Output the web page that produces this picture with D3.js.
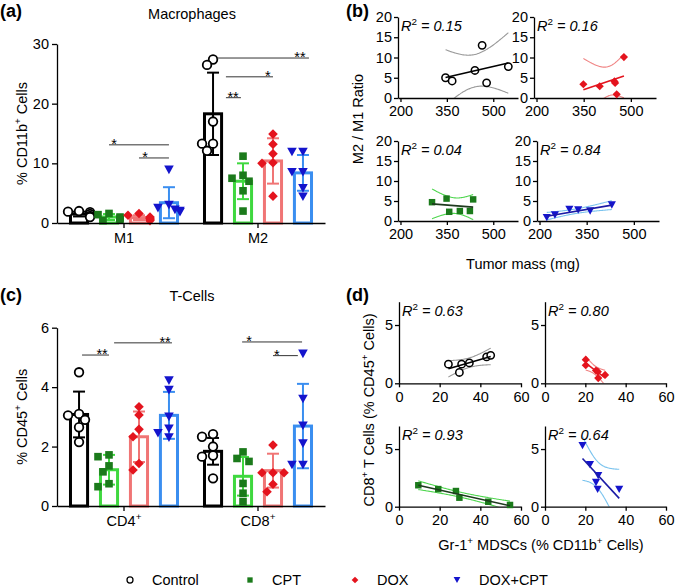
<!DOCTYPE html>
<html><head><meta charset="utf-8">
<script src="https://cdn.jsdelivr.net/npm/d3@7"></script>
<style>
body{margin:0;background:#fff;}
svg{display:block;font-family:"Liberation Sans",Arial,Helvetica,sans-serif;}
</style></head><body>
<svg id="c" width="676" height="588"></svg>
<script>
// ---------------- DATA ----------------
const series = ["Control","CPT","DOX","DOX+CPT"];

// (a) Macrophages
const macroGroups = ["M1","M2"];
const macroMeans = [[1.5,1.0,0.9,3.4],[18.3,7.0,10.4,8.4]];
const macroSD    = [[0.4,0.5,0.4,2.6],[6.9,3.0,3.8,3.0]];
const macroPoints = [
  [[2.0,1.9,1.8,1.5,1.2,1.0],[1.6,1.4,1.0,0.8,0.5,0.4],[1.6,1.3,1.0,0.8,0.6,0.4],[8.9,3.0,2.5,2.2,2.0,1.8]],
  [[27.4,26.5,17.0,13.3,13.3,12.1],[11.2,8.0,7.5,7.0,5.4,2.0],[14.9,13.2,11.6,10.1,10.0,4.5],[11.9,11.9,8.5,8.5,5.8,4.4]]
];
const macroTicks = [0,10,20,30];
// significance: group, from series idx, to series idx, level, label position, label
const macroSig = [
  {g:0, from:1,    to:3,   y:13.1,  at:1.17, label:"*"},
  {g:0, from:2,    to:3,   y:10.9,  at:2.2,  label:"*"},
  {g:1, from:0.13, to:3.2, y:27.65, at:2.9,  label:"**"},
  {g:1, from:0.43, to:2,   y:24.5,  at:1.83, label:"*"},
  {g:1, from:0.43, to:0.93,y:21.0,  at:0.67, label:"**"}
];

// (c) T-Cells
const tGroups = ["CD4","CD8"];
const tMeans = [[3.08,1.22,2.33,3.05],[1.84,1.0,1.19,2.69]];
const tSD    = [[0.77,0.5,0.85,0.79],[0.45,0.65,0.57,1.42]];
const tPoints = [
  [[4.5,3.1,3.05,2.9,2.65,2.15],[1.72,1.66,1.35,1.15,0.75,0.65],[3.34,3.06,2.58,2.33,1.43,1.21],[4.22,3.9,3.0,2.6,2.45,2.3]],
  [[2.42,2.33,2.0,1.7,1.66,0.93],[1.82,1.6,1.5,0.76,0.43,0.15],[2.05,1.12,1.12,1.12,0.73,0.48],[5.12,3.6,2.7,2.1,1.38,1.38]]
];
const tTicks = [0,2,4,6];
const tSig = [
  {g:0, from:0.1,  to:1.0,  y:5.08, at:0.77, label:"**"},
  {g:0, from:1.17, to:3.1,  y:5.49, at:2.87, label:"**"},
  {g:1, from:0.97, to:2.97, y:5.52, at:1.2,  label:"*"},
  {g:1, from:2.0,  to:2.83, y:5.06, at:2.13, label:"*"}
];

// (b) M2/M1 ratio vs tumor mass, per series
const bTumorMass = [[345.7,367,440.7,464,478.5,548.7],[302,349,357.6,392,424.5,435],[349,401,448,450,455,478],[223,249,295,323,361,430]];
const bRatio     = [[5.0,4.2,6.8,13.0,3.75,7.75],[4.7,5.6,2.3,2.5,2.5,5.4],[3.4,2.9,4.1,3.7,0.9,10.1],[0.85,1.5,2.9,2.75,2.5,4.0]];
const bR2 = ["0.15","0.04","0.16","0.84"];
const bXTicks = [200,350,500];
const bYTicks = [0,5,10,15,20];

// (d) CD8+ T cells vs Gr-1+ MDSCs, per series
const dMDSC = [[24.3,29.7,30.8,34.6,43.1,45.1],[9.5,19.3,28,29.7,43.9,54.6],[20.2,20.2,25.3,26.2,26.4,29.8],[18.6,22.3,26.4,25.3,26.1,36.8]];
const dCD8  = [[1.64,0.93,1.64,1.75,2.26,2.4],[1.86,1.53,1.36,0.78,0.43,0.15],[2.03,1.55,1.1,1.0,0.45,0.72],[5.3,3.65,2.7,2.1,1.5,1.5]];
const dR2 = ["0.63","0.93","0.80","0.64"];
const dXTicks = [0,20,40,60];
const dYTicks = [0,5];

// ---------------- STYLE ----------------
const FS = 14.5;
const barStroke = ["#000000","#3fd83f","#f07575","#3a8ef0"];
const ptColor   = ["#000000","#1b7a1b","#e4141e","#1414cc"];
const regLine   = ["#000000","#1e3a1e","#e4141e","#1b1ba6"];
const regBand   = ["#9a9a9a","#4fd64f","#f08585","#7cc4ee"];
const fmt = d3.format("~g");
const svg = d3.select("#c");

function rich(sel, parts, fs){
  let shifted=false;
  parts.forEach(p=>{
    const ts = sel.append("tspan").text(p.t);
    if(p.sup){ ts.attr("dy", -fs*0.42).attr("font-size", fs*0.68); shifted=true; }
    else if(shifted){ ts.attr("dy", fs*0.42); shifted=false; }
    if(p.it) ts.attr("font-style","italic");
  });
  return sel;
}

function marker(g, s, x, y, k){
  if(s===0){
    g.append("circle").attr("cx",x).attr("cy",y).attr("r",4.3*k)
      .attr("fill","#fff").attr("stroke","#000").attr("stroke-width",1.8*k);
  } else if(s===1){
    const a=7.6*k;
    g.append("rect").attr("x",x-a/2).attr("y",y-a/2).attr("width",a).attr("height",a).attr("fill",ptColor[1]);
  } else if(s===2){
    const a=4.8*k;
    g.append("path").attr("d",`M${x},${y-a}L${x+a},${y}L${x},${y+a}L${x-a},${y}Z`).attr("fill",ptColor[2]);
  } else {
    const w=4.8*k, h=4.3*k;
    g.append("path").attr("d",`M${x-w},${y-h}L${x+w},${y-h}L${x},${y+h}Z`).attr("fill",ptColor[3]);
  }
}

function styleAxis(g){
  g.selectAll("path,line").attr("stroke","#000").attr("stroke-width",1.3);
  g.selectAll("text").attr("font-size",FS).attr("fill","#000").attr("font-family",null);
}

// ---------------- BAR PANELS ----------------
function barPanel(cfg){
  const g = svg.append("g");
  const y = d3.scaleLinear().domain([0, cfg.ticks[cfg.ticks.length-1]]).range(cfg.yRange);
  const xg = d3.scaleBand().domain(d3.range(cfg.groups.length)).range(cfg.xRange);
  const xi = d3.scaleBand().domain(d3.range(4)).range([0, xg.bandwidth()]).paddingInner(0.33).paddingOuter(0.4);
  const cx = (gi, i) => xg(gi) + xi(0) + xi.bandwidth()/2 + i*xi.step();

  cfg.means.forEach((ms, gi) => ms.forEach((m, i) => {
    g.append("rect").attr("x", xg(gi)+xi(i)+1.5).attr("width", xi.bandwidth()-3)
      .attr("y", y(m)).attr("height", y(0)-y(m))
      .attr("fill","#fff").attr("stroke", barStroke[i]).attr("stroke-width",3);
  }));
  cfg.means.forEach((ms, gi) => ms.forEach((m, i) => {
    const c = cx(gi,i), sd = cfg.sd[gi][i];
    const e = g.append("g").attr("stroke", barStroke[i]).attr("stroke-width",2);
    e.append("line").attr("x1",c).attr("x2",c).attr("y1",y(m-sd)).attr("y2",y(m+sd));
    e.append("line").attr("x1",c-6).attr("x2",c+6).attr("y1",y(m+sd)).attr("y2",y(m+sd));
    e.append("line").attr("x1",c-6).attr("x2",c+6).attr("y1",y(m-sd)).attr("y2",y(m-sd));
  }));
  cfg.points.forEach((ps, gi) => ps.forEach((vals, i) => {
    const c = cx(gi,i);
    const placed = [];
    const offs = [0,-6,6,-11,11];
    vals.slice().sort((a,b)=>b-a).forEach(v => {
      const py = y(v);
      let px = c;
      for(const o of offs){
        const ok = placed.every(p => Math.hypot(p[0]-(c+o), p[1]-py) >= 7.5);
        px = c+o;
        if(ok) break;
      }
      placed.push([px,py]);
      marker(g, i, px, py, 1);
    });
  }));
  const ay = g.append("g").attr("transform",`translate(${cfg.xRange[0]},0)`)
    .call(d3.axisLeft(y).tickValues(cfg.ticks).tickFormat(fmt).tickSize(5).tickPadding(3).tickSizeOuter(0));
  styleAxis(ay);
  const ax = g.append("g").attr("transform",`translate(0,${y(0)})`)
    .call(d3.axisBottom(xg).tickSize(5).tickSizeOuter(0).tickFormat(""));
  styleAxis(ax);
  cfg.groups.forEach((lab, gi) => {
    const t = g.append("text").attr("x", xg(gi)+xg.bandwidth()/2).attr("y", y(0)+20)
      .attr("text-anchor","middle").attr("font-size",FS);
    rich(t, cfg.groupSup ? [{t:lab},{t:"+",sup:true}] : [{t:lab}], FS);
  });
  cfg.sig.forEach(s => {
    const x1 = cx(s.g, s.from), x2 = cx(s.g, s.to), yy = y(s.y);
    g.append("line").attr("x1",x1).attr("x2",x2).attr("y1",yy).attr("y2",yy)
      .attr("stroke","#333").attr("stroke-width",1);
    g.append("text").attr("x", cx(s.g, s.at)).attr("y", yy+4).attr("text-anchor","middle")
      .attr("font-size",FS).text(s.label);
  });
  const yl = g.append("text").attr("transform",`translate(${cfg.yLabelX},${(cfg.yRange[0]+cfg.yRange[1])/2}) rotate(-90)`)
    .attr("text-anchor","middle").attr("font-size",FS);
  rich(yl, cfg.yLabel, FS);
  g.append("text").attr("x", cfg.titleX).attr("y", cfg.titleY).attr("text-anchor","middle")
    .attr("font-size",FS).text(cfg.title);
}

barPanel({groups:macroGroups, means:macroMeans, sd:macroSD, points:macroPoints, sig:macroSig,
  ticks:macroTicks, yRange:[223,44], xRange:[57,325], groupSup:false,
  yLabel:[{t:"% CD11b"},{t:"+",sup:true},{t:" Cells"}], yLabelX:27,
  title:"Macrophages", titleX:192, titleY:19});

barPanel({groups:tGroups, means:tMeans, sd:tSD, points:tPoints, sig:tSig,
  ticks:tTicks, yRange:[506,327.7], xRange:[57,325], groupSup:true,
  yLabel:[{t:"% CD45"},{t:"+",sup:true},{t:" Cells"}], yLabelX:27,
  title:"T-Cells", titleX:192, titleY:301});

// ---------------- SCATTER PANELS ----------------
let clipId = 0;
function scatter(box, xs, ys, s, xDom, yDom, xTicks, yTicks, r2){
  const g = svg.append("g");
  const x = d3.scaleLinear().domain(xDom).range([box.x0, box.x1]);
  const y = d3.scaleLinear().domain(yDom).range([box.y0, box.y1]);
  const id = "clip"+(clipId++);
  g.append("clipPath").attr("id",id).append("rect")
    .attr("x",box.x0).attr("y",box.y1).attr("width",box.x1-box.x0).attr("height",box.y0-box.y1);
  const n = xs.length, mx = d3.mean(xs), my = d3.mean(ys);
  let sxx=0, sxy=0, syy=0;
  xs.forEach((xv,i)=>{ sxx+=(xv-mx)**2; sxy+=(xv-mx)*(ys[i]-my); syy+=(ys[i]-my)**2; });
  const b = sxy/sxx, a = my - b*mx;
  const se = Math.sqrt(Math.max(syy - b*sxy, 0)/(n-2));
  const tval = 2.776;
  const xmin = d3.min(xs), xmax = d3.max(xs);
  const samples = d3.range(0, 61).map(k => xmin + (xmax-xmin)*k/60);
  const half = xv => tval*se*Math.sqrt(1/n + (xv-mx)**2/sxx);
  const bandG = g.append("g").attr("clip-path",`url(#${id})`);
  const ln = d3.line().x(d=>x(d[0])).y(d=>y(d[1])).curve(d3.curveBasis);
  bandG.append("path").attr("d", ln(samples.map(xv=>[xv, a+b*xv+half(xv)])))
    .attr("fill","none").attr("stroke",regBand[s]).attr("stroke-width",1.1);
  bandG.append("path").attr("d", ln(samples.map(xv=>[xv, a+b*xv-half(xv)])))
    .attr("fill","none").attr("stroke",regBand[s]).attr("stroke-width",1.1);
  const ay = g.append("g").attr("transform",`translate(${box.x0},0)`)
    .call(d3.axisLeft(y).tickValues(yTicks).tickFormat(fmt).tickSize(4).tickPadding(2).tickSizeOuter(0));
  styleAxis(ay);
  const ax = g.append("g").attr("transform",`translate(0,${box.y0})`)
    .call(d3.axisBottom(x).tickValues(xTicks).tickFormat(fmt).tickSize(4).tickPadding(4).tickSizeOuter(0));
  styleAxis(ax);
  xs.forEach((xv,i)=> marker(g, s, x(xv), y(ys[i]), 0.85));
  g.append("line").attr("x1",x(xmin)).attr("x2",x(xmax)).attr("y1",y(a+b*xmin)).attr("y2",y(a+b*xmax))
    .attr("stroke",regLine[s]).attr("stroke-width",1.6);
  const t = g.append("text").attr("x", box.x0+3).attr("y", box.y1+14).attr("font-size",FS);
  rich(t, [{t:"R",it:true},{t:"2",sup:true},{t:" = "+r2,it:true}], FS);
}

const bBoxes = [
  {x0:398,x1:518,y0:98,y1:17},
  {x0:398,x1:518,y0:221,y1:141},
  {x0:534,x1:656,y0:98,y1:17},
  {x0:537,x1:659,y0:221,y1:141}
];
series.forEach((_,s)=> scatter(bBoxes[s], bTumorMass[s], bRatio[s], s, [192,580], [0,20], bXTicks, bYTicks, bR2[s]));

const dBoxes = [
  {x0:399,x1:521,y0:383.3,y1:301.7},
  {x0:399,x1:521,y0:506.7,y1:426},
  {x0:545,x1:666,y0:383.3,y1:301.7},
  {x0:545,x1:666,y0:506.7,y1:426}
];
series.forEach((_,s)=> scatter(dBoxes[s], dMDSC[s], dCD8[s], s, [0,60], [0,7], dXTicks, dYTicks, dR2[s]));

svg.append("text").attr("transform","translate(363,119) rotate(-90)").attr("text-anchor","middle")
  .attr("font-size",FS).text("M2 / M1 Ratio");
svg.append("text").attr("x",523).attr("y",269).attr("text-anchor","middle").attr("font-size",FS).text("Tumor mass (mg)");
rich(svg.append("text").attr("transform","translate(374,410) rotate(-90)").attr("text-anchor","middle").attr("font-size",FS),
  [{t:"CD8"},{t:"+",sup:true},{t:" T Cells (% CD45"},{t:"+",sup:true},{t:" Cells)"}], FS);
rich(svg.append("text").attr("x",541).attr("y",550).attr("text-anchor","middle").attr("font-size",FS),
  [{t:"Gr-1"},{t:"+",sup:true},{t:" MDSCs (% CD11b"},{t:"+",sup:true},{t:" Cells)"}], FS);

[["(a)",0,17],["(b)",346,17],["(c)",0,301],["(d)",346,301]].forEach(p=>{
  svg.append("text").attr("x",p[1]).attr("y",p[2]).attr("font-size",18).attr("font-weight","bold").text(p[0]);
});

// legend
const legX = [130,250,355,457];
series.forEach((name,s)=>{
  const lg = svg.append("g");
  marker(lg, s, legX[s], 580, 0.7);
  lg.append("text").attr("x", legX[s]+22).attr("y",585).attr("font-size",FS).text(name);
});
</script>
</body></html>
